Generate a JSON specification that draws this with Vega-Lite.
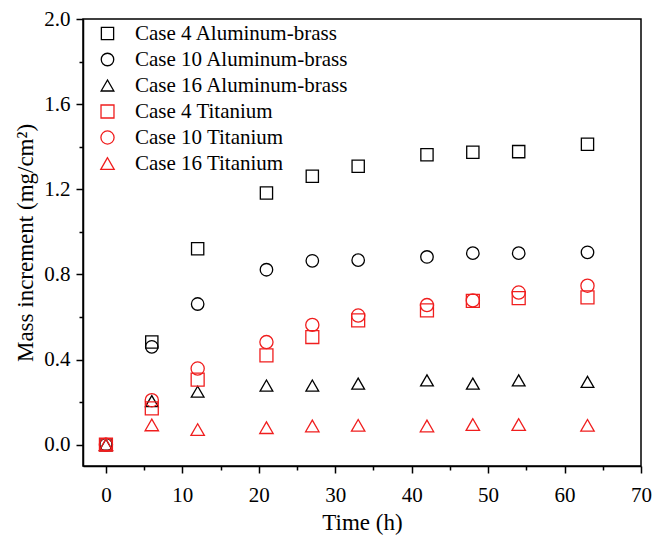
{
  "$schema": "https://vega.github.io/schema/vega-lite/v6.json",
  "width": 558,
  "height": 447,
  "padding": {"left": 14, "top": 8, "right": 5, "bottom": 5},
  "background": "white",
  "config": {
    "view": {"stroke": "black", "strokeWidth": 1.5},
    "font": "Liberation Serif",
    "axis": {
      "grid": false,
      "domainColor": "black",
      "domainWidth": 1.5,
      "tickColor": "black",
      "tickWidth": 1.5,
      "labelColor": "black",
      "titleColor": "black",
      "labelFont": "Liberation Serif",
      "titleFont": "Liberation Serif",
      "labelFontSize": 21,
      "titleFontSize": 23,
      "titleFontWeight": "normal"
    },
    "legend": {
      "labelFont": "Liberation Serif",
      "labelFontSize": 21,
      "labelColor": "black",
      "labelLimit": 400
    }
  },
  "data": {
    "values": [
      {"series": "Case 4 Aluminum-brass", "t": 0, "m": 0},
      {"series": "Case 4 Aluminum-brass", "t": 6, "m": 0.483},
      {"series": "Case 4 Aluminum-brass", "t": 12, "m": 0.921},
      {"series": "Case 4 Aluminum-brass", "t": 21, "m": 1.183},
      {"series": "Case 4 Aluminum-brass", "t": 27, "m": 1.261},
      {"series": "Case 4 Aluminum-brass", "t": 33, "m": 1.308},
      {"series": "Case 4 Aluminum-brass", "t": 42, "m": 1.362},
      {"series": "Case 4 Aluminum-brass", "t": 48, "m": 1.374},
      {"series": "Case 4 Aluminum-brass", "t": 54, "m": 1.377},
      {"series": "Case 4 Aluminum-brass", "t": 63, "m": 1.412},
      {"series": "Case 10 Aluminum-brass", "t": 0, "m": 0},
      {"series": "Case 10 Aluminum-brass", "t": 6, "m": 0.46},
      {"series": "Case 10 Aluminum-brass", "t": 12, "m": 0.661},
      {"series": "Case 10 Aluminum-brass", "t": 21, "m": 0.822},
      {"series": "Case 10 Aluminum-brass", "t": 27, "m": 0.864},
      {"series": "Case 10 Aluminum-brass", "t": 33, "m": 0.867},
      {"series": "Case 10 Aluminum-brass", "t": 42, "m": 0.882},
      {"series": "Case 10 Aluminum-brass", "t": 48, "m": 0.9},
      {"series": "Case 10 Aluminum-brass", "t": 54, "m": 0.9},
      {"series": "Case 10 Aluminum-brass", "t": 63, "m": 0.904},
      {"series": "Case 16 Aluminum-brass", "t": 0, "m": 0},
      {"series": "Case 16 Aluminum-brass", "t": 6, "m": 0.205},
      {"series": "Case 16 Aluminum-brass", "t": 12, "m": 0.249},
      {"series": "Case 16 Aluminum-brass", "t": 21, "m": 0.278},
      {"series": "Case 16 Aluminum-brass", "t": 27, "m": 0.278},
      {"series": "Case 16 Aluminum-brass", "t": 33, "m": 0.287},
      {"series": "Case 16 Aluminum-brass", "t": 42, "m": 0.302},
      {"series": "Case 16 Aluminum-brass", "t": 48, "m": 0.287},
      {"series": "Case 16 Aluminum-brass", "t": 54, "m": 0.302},
      {"series": "Case 16 Aluminum-brass", "t": 63, "m": 0.295},
      {"series": "Case 4 Titanium", "t": 0, "m": 0},
      {"series": "Case 4 Titanium", "t": 6, "m": 0.171},
      {"series": "Case 4 Titanium", "t": 12, "m": 0.306},
      {"series": "Case 4 Titanium", "t": 21, "m": 0.42},
      {"series": "Case 4 Titanium", "t": 27, "m": 0.506},
      {"series": "Case 4 Titanium", "t": 33, "m": 0.584},
      {"series": "Case 4 Titanium", "t": 42, "m": 0.631},
      {"series": "Case 4 Titanium", "t": 48, "m": 0.676},
      {"series": "Case 4 Titanium", "t": 54, "m": 0.689},
      {"series": "Case 4 Titanium", "t": 63, "m": 0.692},
      {"series": "Case 10 Titanium", "t": 0, "m": 0},
      {"series": "Case 10 Titanium", "t": 6, "m": 0.209},
      {"series": "Case 10 Titanium", "t": 12, "m": 0.358},
      {"series": "Case 10 Titanium", "t": 21, "m": 0.482},
      {"series": "Case 10 Titanium", "t": 27, "m": 0.563},
      {"series": "Case 10 Titanium", "t": 33, "m": 0.607},
      {"series": "Case 10 Titanium", "t": 42, "m": 0.656},
      {"series": "Case 10 Titanium", "t": 48, "m": 0.678},
      {"series": "Case 10 Titanium", "t": 54, "m": 0.715},
      {"series": "Case 10 Titanium", "t": 63, "m": 0.747},
      {"series": "Case 16 Titanium", "t": 0, "m": 0},
      {"series": "Case 16 Titanium", "t": 6, "m": 0.093},
      {"series": "Case 16 Titanium", "t": 12, "m": 0.071},
      {"series": "Case 16 Titanium", "t": 21, "m": 0.08},
      {"series": "Case 16 Titanium", "t": 27, "m": 0.088},
      {"series": "Case 16 Titanium", "t": 33, "m": 0.091},
      {"series": "Case 16 Titanium", "t": 42, "m": 0.088},
      {"series": "Case 16 Titanium", "t": 48, "m": 0.095},
      {"series": "Case 16 Titanium", "t": 54, "m": 0.095},
      {"series": "Case 16 Titanium", "t": 63, "m": 0.091}
    ]
  },
  "layer": [
    {
      "mark": {"type": "point", "filled": false, "strokeWidth": 1.3, "opacity": 1},
      "encoding": {
        "x": {
          "field": "t", "type": "quantitative",
          "scale": {"domain": [-3, 70], "nice": false, "zero": false},
          "axis": {
            "title": "Time (h)",
            "values": [0, 10, 20, 30, 40, 50, 60, 70],
            "tickSize": 7,
            "labelPadding": 11,
            "titlePadding": 6,
            "labelFlush": false
          }
        },
        "y": {
          "field": "m", "type": "quantitative",
          "scale": {"domain": [-0.1, 2.0], "nice": false, "zero": false},
          "axis": {
            "title": "Mass increment (mg/cm²)",
            "values": [0, 0.4, 0.8, 1.2, 1.6, 2.0],
            "format": ".1f",
            "tickSize": 7,
            "labelPadding": 6,
            "titlePadding": 6,
            "labelFlush": false
          }
        },
        "color": {
          "field": "series", "type": "nominal",
          "scale": {
            "domain": ["Case 4 Aluminum-brass", "Case 10 Aluminum-brass", "Case 16 Aluminum-brass", "Case 4 Titanium", "Case 10 Titanium", "Case 16 Titanium"],
            "range": ["black", "black", "black", "#f01e1e", "#f01e1e", "#f01e1e"]
          },
          "legend": {
            "title": null,
            "orient": "none",
            "legendX": 14,
            "legendY": 4,
            "rowPadding": 4,
            "labelOffset": 17,
            "symbolStrokeWidth": 1.3
          }
        },
        "shape": {
          "field": "series", "type": "nominal",
          "scale": {
            "domain": ["Case 4 Aluminum-brass", "Case 10 Aluminum-brass", "Case 16 Aluminum-brass", "Case 4 Titanium", "Case 10 Titanium", "Case 16 Titanium"],
            "range": ["square", "circle", "triangle-up", "square", "circle", "triangle-up"]
          }
        },
        "size": {
          "field": "series", "type": "nominal",
          "scale": {
            "domain": ["Case 4 Aluminum-brass", "Case 10 Aluminum-brass", "Case 16 Aluminum-brass", "Case 4 Titanium", "Case 10 Titanium", "Case 16 Titanium"],
            "range": [150, 180, 280, 150, 180, 280]
          }
        }
      }
    },
    {
      "mark": {"type": "point", "opacity": 0},
      "encoding": {
        "x": {
          "field": "t", "type": "quantitative",
          "axis": {
            "orient": "bottom",
            "title": null,
            "values": [5, 15, 25, 35, 45, 55, 65],
            "labels": false,
            "domain": false,
            "tickSize": 4
          }
        },
        "y": {
          "field": "m", "type": "quantitative",
          "axis": {
            "orient": "left",
            "title": null,
            "values": [0.2, 0.6, 1.0, 1.4, 1.8],
            "labels": false,
            "domain": false,
            "tickSize": 4
          }
        }
      }
    }
  ],
  "resolve": {"axis": {"x": "independent", "y": "independent"}}
}
